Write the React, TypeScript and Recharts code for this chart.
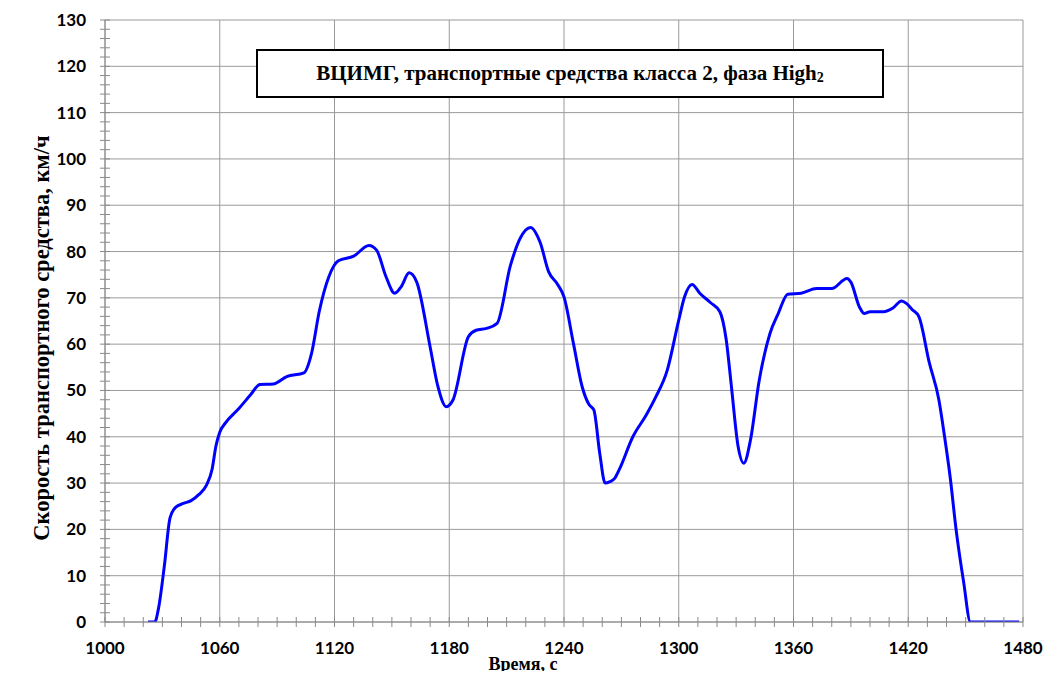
import { LineChart, Line, XAxis, YAxis, CartesianGrid } from 'recharts';

// time, s
const times = [
  1022.5, 1026, 1028, 1031, 1034, 1037, 1041, 1045, 1049, 1053,
  1056, 1058, 1060, 1063, 1070, 1076, 1081, 1088, 1095, 1104,
  1108, 1112, 1117, 1122, 1130, 1138, 1142, 1147, 1151.5, 1155,
  1159, 1163, 1170, 1174, 1178.5, 1182, 1190, 1194, 1199.5, 1205,
  1212, 1217, 1222.5, 1227.5, 1232, 1236.5, 1240, 1245, 1249.5, 1253,
  1255.6, 1258.7, 1261.5, 1264, 1266.5, 1269, 1276, 1283, 1288, 1294,
  1300, 1303, 1307, 1311, 1316.5, 1321.5, 1324.8, 1327.5, 1331, 1334,
  1337.5, 1342, 1347.7, 1352, 1357, 1364, 1372, 1380, 1388, 1390,
  1394.5, 1397, 1400, 1407, 1412, 1416.5, 1419, 1422, 1425.5, 1431,
  1436, 1439, 1442, 1445, 1449, 1452.5, 1478,
];

// speed, km/h
const speeds = [
  0, 0, 3, 12, 22.5, 24.8, 25.6, 26.2, 27.5, 29.5,
  33, 38, 41, 43, 46.1, 49, 51.3, 51.4, 53, 53.8,
  58, 67, 74.5, 78, 79, 81.3, 80.3, 74.5, 71, 72.5,
  75.4, 73.4, 59.4, 51, 46.5, 48, 61.6, 63, 63.4, 64.5,
  77, 82.8, 85.2, 82, 75.6, 73, 70.2, 60, 50.8, 47,
  45.8, 36.4, 30, 30.3, 31, 33, 40, 44.7, 48.6, 54.4,
  65.2, 70.2, 72.9, 71, 69, 67, 61, 51, 38, 34.3,
  39.3, 52, 62.3, 66.6, 70.8, 71, 72, 72, 74.2, 73.4,
  68, 66.6, 67, 67, 67.8, 69.3, 68.8, 67.5, 66, 56,
  48, 40, 31, 20, 8.5, 0, 0,
];

const xMajorTicks = [1000, 1060, 1120, 1180, 1240, 1300, 1360, 1420, 1480];
const yMajorTicks = [0, 10, 20, 30, 40, 50, 60, 70, 80, 90, 100, 110, 120, 130];
const xMinorTicks = Array.from({ length: 49 }, (_, i) => 1000 + i * 10);
const yMinorTicks = Array.from({ length: 66 }, (_, i) => i * 2);

const data = times.map((t, i) => ({ t, v: speeds[i] }));

const tickFont = 'Lato, "Open Sans", sans-serif';
const serif = '"Liberation Serif", "Times New Roman", serif';

function XTick(props: any) {
  const { x, y, payload } = props;
  const isMajor = xMajorTicks.includes(payload.value);
  return (
    <g>
      <line x1={x} x2={x} y1={y - 5} y2={y + 5} stroke="#8a8a8a" />
      {isMajor && (
        <text x={x} y={y + 32} textAnchor="middle" fontFamily={tickFont} fontWeight={700} fontSize={17} fill="#000">
          {payload.value}
        </text>
      )}
    </g>
  );
}

function YTick(props: any) {
  const { x, y, payload } = props;
  const isMajor = yMajorTicks.includes(payload.value);
  return (
    <g>
      <line x1={x - 5} x2={x + 5} y1={y} y2={y} stroke="#8a8a8a" />
      {isMajor && (
        <text x={x - 19} y={y + 6} textAnchor="end" fontFamily={tickFont} fontWeight={700} fontSize={17} fill="#000">
          {payload.value}
        </text>
      )}
    </g>
  );
}

export default function App() {
  return (
    <div style={{ position: 'relative', width: 1053, height: 679, margin: -8, overflow: 'hidden', background: '#fff' }}>
      <div
        style={{
          position: 'absolute',
          left: 7,
          top: 7,
          width: 1043,
          height: 700,
          border: '1px solid #c4c4c4',
          boxSizing: 'border-box',
        }}
      />
      <div style={{ position: 'absolute', left: 0, top: 0 }}>
        <LineChart width={1053} height={679} data={data} margin={{ top: 20, right: 30, left: 45, bottom: 17 }}>
          <CartesianGrid
            stroke="#9a9a9a"
            horizontalValues={yMajorTicks}
            verticalValues={xMajorTicks}
          />
          <XAxis
            dataKey="t"
            type="number"
            domain={[1000, 1480]}
            ticks={xMinorTicks}
            interval={0}
            height={40}
            tickSize={0}
            tickMargin={0}
            tickLine={false}
            axisLine={{ stroke: '#8a8a8a' }}
            tick={<XTick />}
            allowDataOverflow
          />
          <YAxis
            type="number"
            domain={[0, 130]}
            ticks={yMinorTicks}
            interval={0}
            width={60}
            tickSize={0}
            tickMargin={0}
            tickLine={false}
            axisLine={{ stroke: '#8a8a8a' }}
            tick={<YTick />}
            allowDataOverflow
          />
          <Line
            type="monotone"
            dataKey="v"
            stroke="#0000ff"
            strokeWidth={3}
            dot={false}
            isAnimationActive={false}
          />
        </LineChart>
      </div>
      <div
        style={{
          position: 'absolute',
          left: 256,
          top: 49,
          width: 628,
          height: 49,
          border: '2px solid #000',
          boxSizing: 'border-box',
          background: '#fff',
          display: 'flex',
          alignItems: 'center',
          justifyContent: 'center',
          fontFamily: serif,
          fontWeight: 700,
          fontSize: 21,
          color: '#000',
        }}
      >
        <span>
          ВЦИМГ, транспортные средства класса 2, фаза High<sub style={{ fontSize: 14, verticalAlign: '-2px' }}>2</sub>
        </span>
      </div>
      <div
        style={{
          position: 'absolute',
          left: 42,
          top: 338,
          transform: 'translate(-50%, -50%) rotate(-90deg)',
          whiteSpace: 'nowrap',
          fontFamily: serif,
          fontWeight: 700,
          fontSize: 22.5,
          color: '#000',
        }}
      >
        Скорость транспортного средства, км/ч
      </div>
      <div
        style={{
          position: 'absolute',
          left: 523,
          top: 664,
          transform: 'translate(-50%, -50%)',
          whiteSpace: 'nowrap',
          fontFamily: serif,
          fontWeight: 700,
          fontSize: 18,
          color: '#000',
        }}
      >
        Время, с
      </div>
    </div>
  );
}
